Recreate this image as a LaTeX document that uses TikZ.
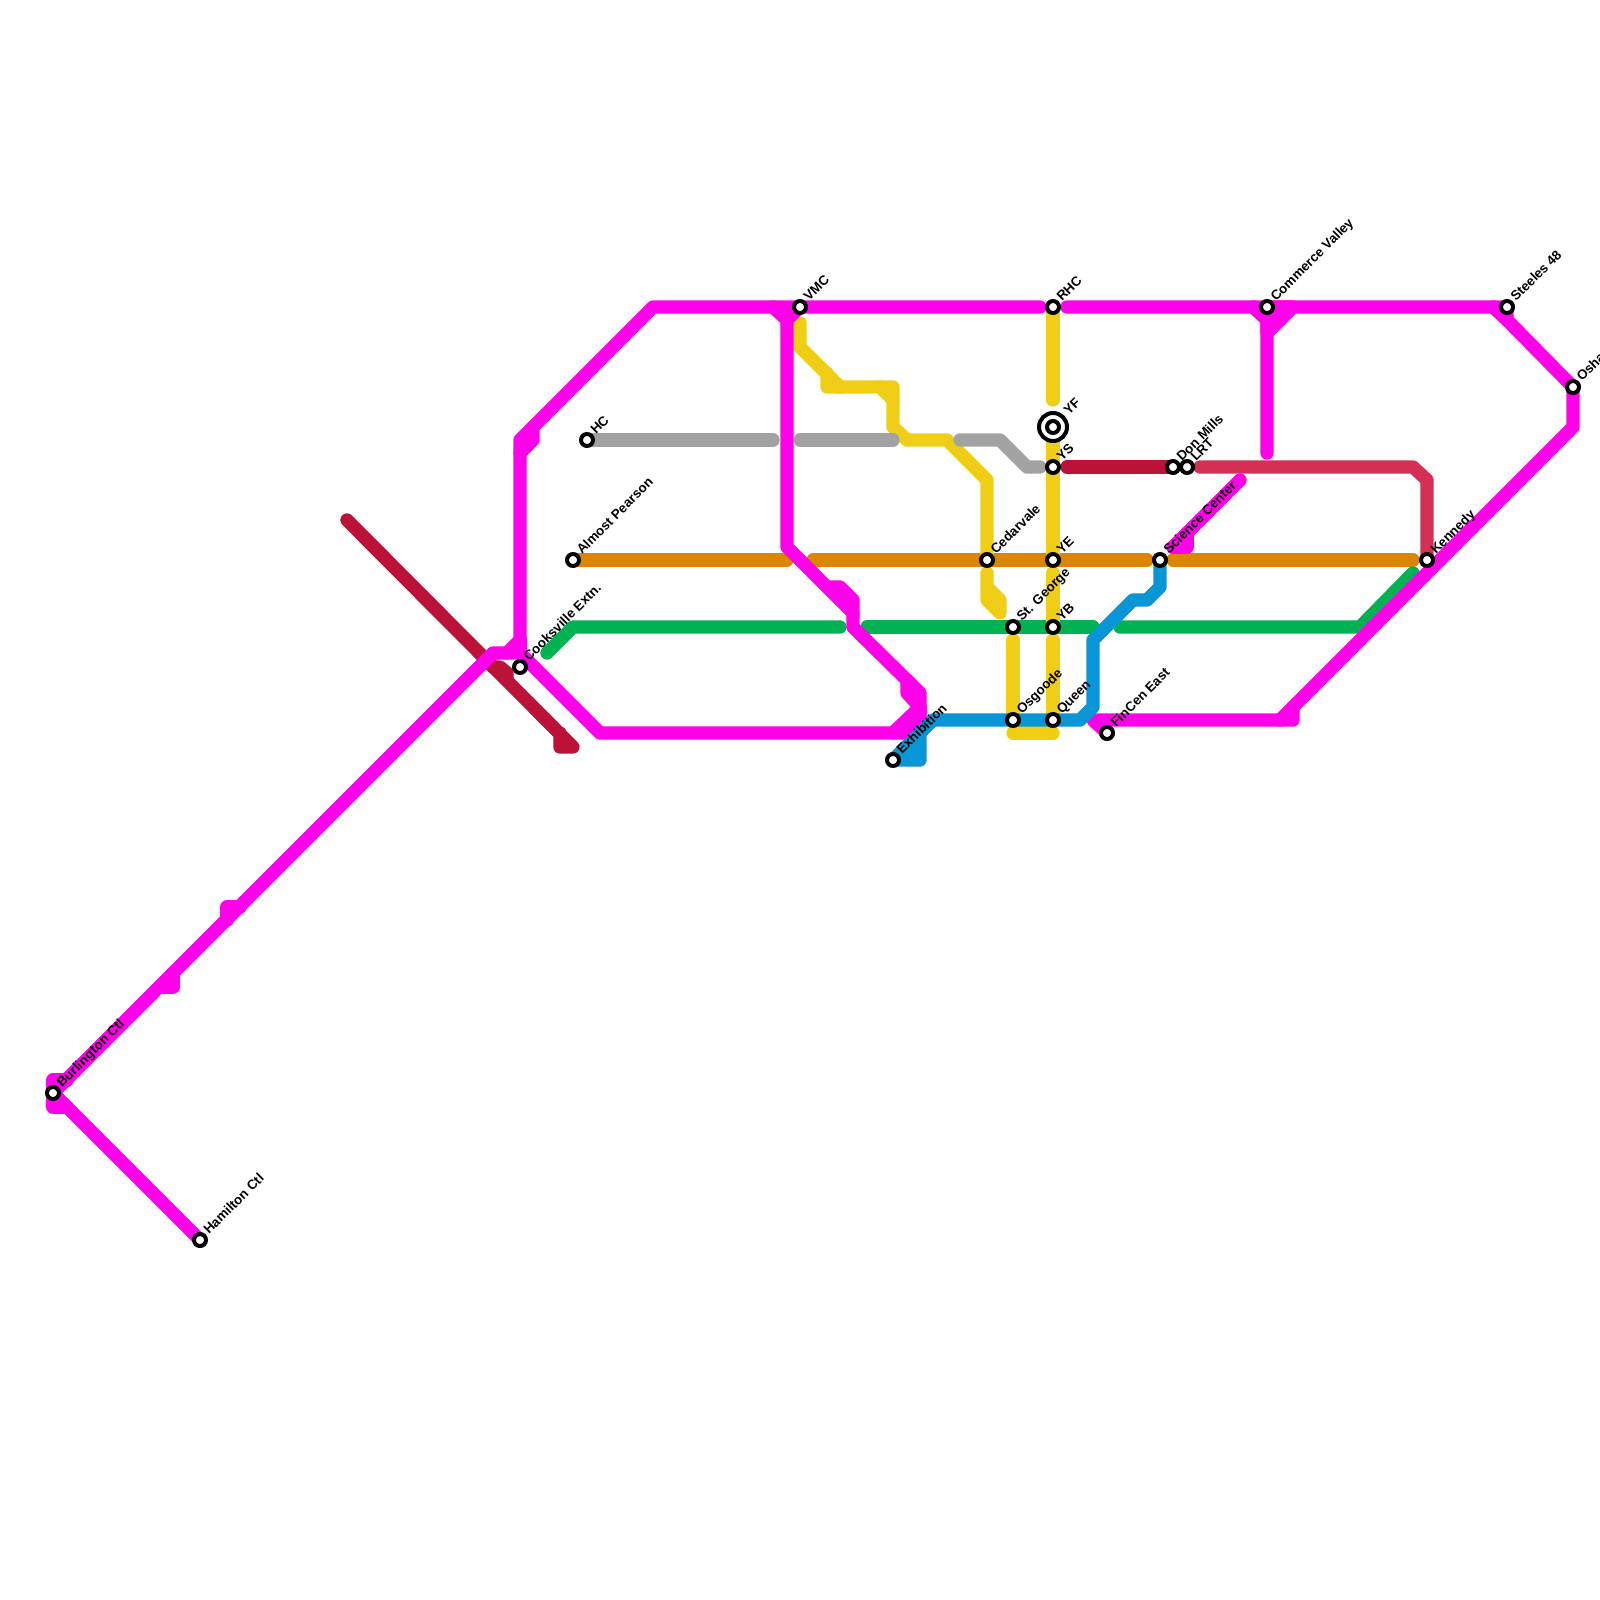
\documentclass[tikz,border=0pt]{standalone}
\usepackage{fontspec}
\setmainfont{Liberation Sans}
\usetikzlibrary{backgrounds,calc}
\definecolor{cmag}{HTML}{FF00EA}
\definecolor{corg}{HTML}{DD8500}
\definecolor{cgrn}{HTML}{00B251}
\definecolor{cgry}{HTML}{A2A2A2}
\definecolor{cyel}{HTML}{F0CE15}
\definecolor{cblu}{HTML}{0896D7}
\definecolor{cdrd}{HTML}{BC1238}
\definecolor{clrd}{HTML}{D52F56}
\tikzset{
  route/.style={line width=13.33pt,line cap=round,line join=round},
  station/.style={circle,draw=black,fill=white,line width=4pt,minimum size=12pt,inner sep=0pt},
  ring/.style={circle,draw=black,fill=white,line width=4pt,minimum size=28pt,inner sep=0pt},
  lab/.style={rotate=45,anchor=base west,inner sep=0pt,font=\fontsize{13.33}{16}\selectfont\bfseries,text=black}
}
\newcommand{\stn}[4]{%
  \node[station] (#1) at (#2) {};
  \node[lab] (#1l) at ($(#2)+(#3)$) {#4};
}
\begin{document}
\begin{tikzpicture}[x=1pt,y=-1pt]
\path[use as bounding box] (0,0) rectangle (1600,1600);
\node[ring] (yfo) at (1053,427) {};
\stn{bur}{53,1093}{9,-5}{Burlington Ctl}
\stn{ham}{200,1240}{9,-5}{Hamilton Ctl}
\stn{coo}{520,667}{9,-5}{Cooksville Extn.}
\stn{hc}{587,440}{9,-5}{HC}
\stn{alm}{573,560}{9,-5}{Almost Pearson}
\stn{vmc}{800,307}{9,-5}{VMC}
\stn{rhc}{1053,307}{9,-5}{RHC}
\stn{yf}{1053,427}{16,-11}{YF}
\stn{ys}{1053,467}{9,-5}{YS}
\stn{ye}{1053,560}{9,-5}{YE}
\stn{yb}{1053,627}{9,-5}{YB}
\stn{que}{1053,720}{9,-5}{Queen}
\stn{osg}{1013,720}{9,-5}{Osgoode}
\stn{stg}{1013,627}{9,-5}{St. George}
\stn{ced}{987,560}{9,-5}{Cedarvale}
\stn{exh}{893,760}{9,-5}{Exhibition}
\stn{fin}{1107,733}{9,-5}{FinCen East}
\stn{sci}{1160,560}{9,-5}{Science Center}
\stn{don}{1173,467}{9,-5}{Don Mills}
\stn{lrt}{1187,467}{9,-5}{LRT}
\stn{com}{1267,307}{9,-5}{Commerce Valley}
\stn{ste}{1507,307}{9,-5}{Steeles 48}
\stn{osh}{1573,387}{9,-5}{Oshawa}
\stn{ken}{1427,560}{9,-5}{Kennedy}
\begin{scope}[on background layer]
\fill[white] (0,0) rectangle (1600,1600);
% crimson
\draw[route,cdrd] (347,520) -- (573,747) -- (560,747) -- (560,733);
\draw[route,cdrd] (493,667) -- (500,667) -- (507,673) -- (507,680);
\draw[route,cdrd] (1067,467) -- (don.center);
\draw[route,clrd] (1200,467) -- (1413,467) -- (1427,480) -- (ken.center);
% orange
\draw[route,corg] (alm.center) -- (787,560);
\draw[route,corg] (813,560) -- (ced.center) -- (ye.center) -- (1147,560);
\draw[route,corg] (1173,560) -- (1413,560);
% green
\draw[route,cgrn] (547,653) -- (573,627) -- (840,627);
\draw[route,cgrn] (867,627) -- (stg.center) -- (yb.center) -- (1093,627);
\draw[route,cgrn] (1120,627) -- (1360,627) -- (1413,573);
% yellow
\draw[route,cyel] (800,323) -- (800,347) -- (840,387);
\draw[route,cyel] (827,373) -- (827,387) -- (893,387) -- (893,427) -- (907,440) -- (947,440) -- (987,480) -- (ced.center);
\draw[route,cyel] (880,387) -- (893,400);
\draw[route,cyel] (rhc.center) -- (1053,400);
\draw[route,cyel] (1053,440) -- (ys.center) -- (ye.center);
\draw[route,cyel] (1053,573) -- (yb.center);
\draw[route,cyel] (1053,640) -- (que.center);
\draw[route,cyel] (1013,640) -- (osg.center);
\draw[route,cyel] (987,573) -- (987,600) -- (1000,613) -- (1000,600) -- (987,587);
\draw[route,cyel] (1013,733) -- (1053,733);
% grey
\draw[route,cgry] (hc.center) -- (773,440);
\draw[route,cgry] (800,440) -- (893,440);
\draw[route,cgry] (960,440) -- (1000,440) -- (1027,467) -- (1040,467);
% magenta
\draw[route,cmag] (bur.center) -- (493,653) -- (507,653) -- (520,640) -- (520,440) -- (653,307) -- (vmc.center) -- (1040,307);
\draw[route,cmag] (1067,307) -- (com.center) -- (ste.center) -- (1507,320) -- (osh.center) -- (1573,427) -- (1280,720);
\draw[route,cmag] (1493,307) -- (1507,320);
\draw[route,cmag] (fin.center) -- (1093,720) -- (1293,720) -- (1293,707);
\draw[route,cmag] (ham.center) -- (bur.center);
\draw[route,cmag] (67,1107) -- (53,1107) -- (53,1080) -- (67,1080);
\draw[route,cmag] (160,987) -- (173,987) -- (173,973);
\draw[route,cmag] (227,920) -- (227,907) -- (240,907);
\draw[route,cmag] (520,453) -- (533,440) -- (533,427);
\draw[route,cmag] (520,640) -- (520,653);
\draw[route,cmag] (507,653) -- (520,653) -- (600,733) -- (893,733);
\draw[route,cmag,fill=cmag] (893,733) -- (920,707) -- (920,733) -- cycle;
\draw[route,cmag] (773,307) -- (787,320) -- (787,547) -- (853,613);
\draw[route,cmag] (787,320) -- (vmc.center);
\draw[route,cmag] (827,587) -- (840,587) -- (853,600) -- (853,627) -- (920,693) -- (920,733);
\draw[route,cmag] (907,680) -- (907,693) -- (920,707);
\draw[route,cmag] (1253,307) -- (1267,320) -- (1267,453);
\draw[route,cmag,fill=cmag] (com.center) -- (1293,307) -- (1267,333) -- cycle;
\draw[route,cmag] (1240,480) -- (1173,547);
\draw[route,cmag] (1187,533) -- (1187,547) -- (1173,547);
% blue
\draw[route,cblu,fill=cblu] (exh.center) -- (920,760) -- (920,733) -- cycle;
\draw[route,cblu] (exh.center) -- (933,720) -- (osg.center) -- (que.center) -- (1080,720) -- (1093,707) -- (1093,640) -- (1133,600) -- (1147,600) -- (1160,587) -- (sci.center);
\end{scope}
\end{tikzpicture}
\end{document}
